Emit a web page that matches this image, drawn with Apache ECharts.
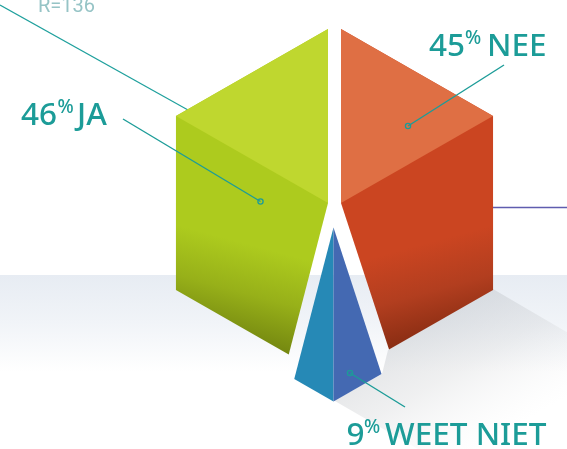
<!DOCTYPE html>
<html><head><meta charset="utf-8">
<style>html,body{margin:0;padding:0;background:#fff}#c{width:567px;height:449px}</style>
<script src="https://cdn.jsdelivr.net/npm/echarts@6/dist/echarts.min.js"></script>
</head><body><div id="c"></div>
<script>
var categories = ['JA', 'NEE', 'WEET NIET'];
var shares = [46, 45, 9];
var unit = '%';
var strayLabel = 'R=136';
var teal = '#1C9C98';

// Hexagon geometry (isometric cube seen from above)
var cx = 334.5, cy = 203, R = 174, stretchX = 1.009;
var offsets = { 'JA': [-6.5, 0], 'NEE': [6.5, 0], 'WEET NIET': [-1, 24.5] };

function hexPoint(deg) {
  // clockwise from the top; returns the point on the hexagon outline
  var a = deg * Math.PI / 180, s = Math.sin(a), c = -Math.cos(a);
  var best = Infinity;
  for (var k = 0; k < 6; k++) {
    var n = (k * 60 + 30) * Math.PI / 180;
    var d = s * Math.sin(n) - c * Math.cos(n);
    if (d > 1e-6) best = Math.min(best, R * Math.cos(Math.PI / 6) / d);
  }
  return [s * best * stretchX, c * best];
}
function outline(a0, a1) {
  var pts = [hexPoint(a0)];
  for (var v = 0; v <= 720; v += 60) {
    if (v > a0 + 0.01 && v < a1 - 0.01) pts.push(hexPoint(v));
  }
  pts.push(hexPoint(a1));
  return pts;
}
// slice angle ranges: NEE goes clockwise from the top, WEET NIET follows, JA closes the circle
var deg = shares.map(function (v) { return v * 3.6; });
var ranges = {
  'NEE': [0, deg[1]],
  'WEET NIET': [deg[1], deg[1] + deg[2]],
  'JA': [deg[1] + deg[2], 360]
};

var labelSpec = {
  'JA':        { x: 21,  base: 125, p: 57.5, l: 77,  line: [[123, 119], [260.5, 201.5]] },
  'NEE':       { x: 429, base: 56,  p: 465, l: 487, line: [[504, 65], [408, 126]] },
  'WEET NIET': { x: 346.5, base: 445, p: 364, l: 385, line: [[405, 407], [350, 373]] }
};

function lg(x, y, x2, y2, stops) {
  return { type: 'linear', global: true, x: x, y: y, x2: x2, y2: y2,
    colorStops: stops.map(function (s) { return { offset: s[0], color: s[1] }; }) };
}
function poly(pts, fill, z) {
  return { type: 'polygon', z2: z || 0, shape: { points: pts }, style: { fill: fill } };
}
function sliceShapes(name, api) {
  var o = offsets[name], r = ranges[name];
  var ox = cx + o[0], oy = cy + o[1];
  function P(p) { return api.coord([p[0] + ox, p[1] + oy]); }
  var c0 = P([0, 0]);
  var out = [];
  if (name === 'WEET NIET') {
    var pts = outline(r[0], r[1]);
    var right = pts.filter(function (p) { return p[0] >= -0.01; }).map(P);
    var left = pts.filter(function (p) { return p[0] <= 0.01; }).map(P);
    out.push(poly([c0].concat(left), '#2689B6'));
    out.push(poly([c0].concat(right), '#4469B2'));
    return out;
  }
  var all = outline(r[0], r[1]).map(P);
  if (name === 'NEE') {
    out.push(poly([c0].concat(all), lg(493, 225, 518, 317, [[0, '#CB4521'], [0.5, '#B23E1F'], [1, '#872C12']])));
    out.push(poly([c0, P(hexPoint(0)), P(hexPoint(60))], '#DF6F44', 1));
  } else {
    out.push(poly([c0].concat(all), lg(177, 225, 152, 318, [[0, '#ADCB1E'], [0.5, '#97B019'], [1, '#748710']])));
    out.push(poly([c0, P(hexPoint(300)), P(hexPoint(360))], '#BFD72F', 1));
  }
  return out;
}

function text(t, x, y, size, fill, weight, family) {
  return { type: 'text', z2: 10, x: x, y: y,
    style: { text: t, fill: fill, font: (weight || 'normal') + ' ' + size + 'px ' + (family || '"Noto Sans", sans-serif'),
      align: 'left', verticalAlign: 'bottom' } };
}

var option = {
  animation: false,
  grid: { left: 0, right: 0, top: 0, bottom: 0 },
  xAxis: { type: 'value', min: 0, max: 567, show: false },
  yAxis: { type: 'value', min: 0, max: 449, inverse: true, show: false },
  series: [
    { // floor and cast shadows
      type: 'custom', z: 1, silent: true, data: [0], clip: true,
      renderItem: function (p, api) {
        return { type: 'group', children: [
          { type: 'rect', shape: { x: 0, y: 275, width: 567, height: 174 },
            style: { fill: lg(0, 275, 0, 372, [[0, '#E7ECF3'], [0.5, '#F1F4F8'], [1, '#FFFFFF']]) } },
          poly([[493, 289], [388, 350], [382, 374], [334, 400.5], [430, 456], [640, 456], [640, 375]],
            lg(440, 320, 505, 433, [[0, 'rgba(190,194,199,0.42)'], [0.4, 'rgba(195,197,200,0.26)'], [1, 'rgba(225,226,228,0)']]))
        ] };
      }
    },
    { // annotation lines behind the slices
      type: 'custom', z: 2, silent: true, data: [0],
      renderItem: function () {
        return { type: 'group', children: [
          { type: 'line', shape: { x1: 0, y1: 5, x2: 188, y2: 110 }, style: { stroke: '#1FA09D', lineWidth: 1.2 } },
          { type: 'line', shape: { x1: 490, y1: 207.5, x2: 567, y2: 207.5 }, style: { stroke: '#5F5DAF', lineWidth: 1.4 } },
          text(strayLabel, 38, 16.5, 20, '#96C4C6', 'normal', 'Roboto, sans-serif')
        ] };
      }
    },
    { // slices, computed from the shares
      type: 'custom', z: 3, silent: true, data: categories.map(function (c, i) { return [i, shares[i]]; }),
      encode: { x: 0, y: 1 },
      renderItem: function (p, api) {
        return { type: 'group', children: sliceShapes(categories[api.value(0)], api) };
      }
    },
    { // callouts and labels
      type: 'custom', z: 4, silent: true, data: categories.map(function (c, i) { return [i, shares[i]]; }),
      encode: { x: 0, y: 1 },
      renderItem: function (p, api) {
        var name = categories[api.value(0)], s = labelSpec[name], L = s.line;
        return { type: 'group', children: [
          { type: 'line', shape: { x1: L[0][0], y1: L[0][1], x2: L[1][0], y2: L[1][1] },
            style: { stroke: teal, lineWidth: 1.4 } },
          { type: 'circle', shape: { cx: L[1][0], cy: L[1][1], r: 2.6 },
            style: { fill: 'none', stroke: teal, lineWidth: 1.3 } },
          text(String(api.value(1)), s.x, s.base + 7, 31.5, teal, '500'),
          text(unit, s.p, s.base - 7.5, 19, teal, '500'),
          text(name, s.l, s.base + 7, 31.5, teal, '500')
        ] };
      }
    }
  ]
};
var chart = echarts.init(document.getElementById('c'), null, { renderer: 'canvas' });
chart.setOption(option);
</script></body></html>
